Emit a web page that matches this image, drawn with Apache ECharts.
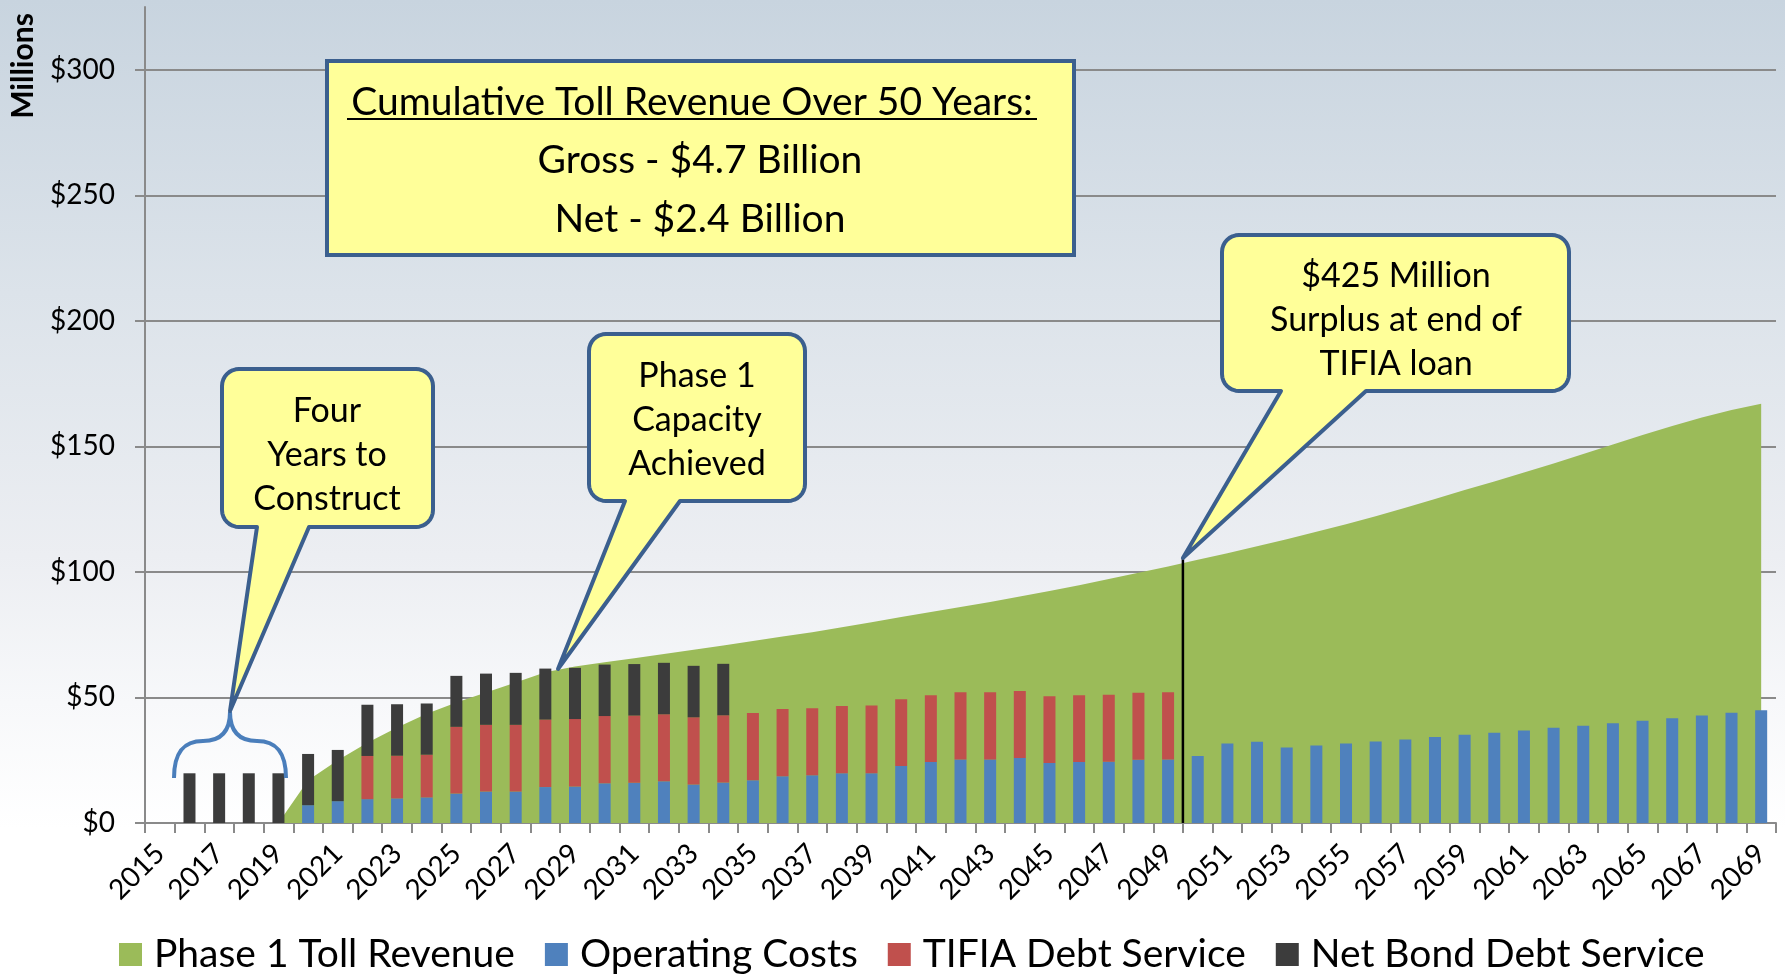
<!DOCTYPE html>
<html lang="en">
<head>
<meta charset="UTF-8">
<title>Phase 1 Toll Revenue</title>
<script src="https://cdn.jsdelivr.net/npm/echarts@6/dist/echarts.min.js"></script>
<style>
  html, body { margin: 0; padding: 0; }
  #main {
    width: 1785px; height: 975px;
    background: linear-gradient(to bottom, #c8d4df 0%, #dce3ea 30%, #eceef2 57%, #f7f8fa 72%, #ffffff 85%, #ffffff 100%);
  }
</style>
</head>
<body>
<div id="main"></div>
<script>
var years = ['2015','2016','2017','2018','2019','2020','2021','2022','2023','2024',
             '2025','2026','2027','2028','2029','2030','2031','2032','2033','2034',
             '2035','2036','2037','2038','2039','2040','2041','2042','2043','2044',
             '2045','2046','2047','2048','2049','2050','2051','2052','2053','2054',
             '2055','2056','2057','2058','2059','2060','2061','2062','2063','2064',
             '2065','2066','2067','2068','2069'];

// millions of dollars per year
var tollRevenue = ['-','-','-','-',0,
                   17,25,32,38,43.5, 48,52,56,60,62.3, 64,65.6,67.3,69,70.7,
                   72.5,74.3,76,78,80, 82,84,86,88,90.2, 92.4,94.7,97.2,99.7,102.2,
                   104.8,107.4,110.2,113,116, 119,122.2,125.6,129,132.6,
                   136,139.6,143.2,147,150.8, 154.5,158.1,161.5,164.5,167];

var operatingCosts = ['-',0,0,0,0,
                      7.1,8.7,9.5,9.8,10.2, 11.7,12.5,12.5,14.3,14.5, 15.8,16.0,16.6,15.3,16.1,
                      17.0,18.6,19.0,19.8,19.8, 22.7,24.3,25.3,25.3,25.9, 23.9,24.3,24.4,25.2,25.3,
                      26.7,31.7,32.4,30.1,30.9, 31.7,32.5,33.3,34.3,35.1,
                      35.9,36.8,37.9,38.7,39.7, 40.7,41.7,42.8,43.9,44.9];

var tifiaDebt = ['-',0,0,0,0, 0,0,17.2,17.0,17.0,
                 26.6,26.6,26.6,26.9,26.9, 26.8,26.8,26.7,26.8,26.8,
                 26.8,26.8,26.7,26.8,27.0, 26.6,26.6,26.8,26.8,26.7,
                 26.6,26.6,26.7,26.7,26.8,
                 '-','-','-','-','-','-','-','-','-','-',
                 '-','-','-','-','-','-','-','-','-','-'];

var netBondDebt = ['-',19.8,19.8,19.8,19.8,
                   20.4,20.4,20.4,20.5,20.4, 20.3,20.4,20.7,20.3,20.4, 20.5,20.5,20.5,20.5,20.5,
                   '-','-','-','-','-','-','-','-','-','-',
                   '-','-','-','-','-','-','-','-','-','-',
                   '-','-','-','-','-','-','-','-','-','-',
                   '-','-','-','-','-'];

var yTicks = [0, 50, 100, 150, 200, 250, 300];

var FONT = 'Lato, "Open Sans", sans-serif';
var gridColor = '#8a8a8a';

var myChart = echarts.init(document.getElementById('main'));

myChart.setOption({
    animation: false,
    backgroundColor: 'transparent',
    textStyle: { fontFamily: FONT },
    grid: { left: 145, right: 9, top: 7, bottom: 152 },
    legend: {
        left: 114,
        top: 930,
        itemWidth: 23,
        itemHeight: 23,
        itemGap: 30,
        icon: 'rect',
        textStyle: { fontSize: 39, color: '#000', fontFamily: FONT, padding: [0, 0, 0, 7] },
        data: ['Phase 1 Toll Revenue', 'Operating Costs', 'TIFIA Debt Service', 'Net Bond Debt Service']
    },
    xAxis: {
        type: 'category',
        data: years,
        boundaryGap: true,
        axisLine: { lineStyle: { color: gridColor, width: 2 } },
        axisTick: { show: true, interval: 0, length: 10, lineStyle: { color: gridColor, width: 2 } },
        axisLabel: { interval: 1, rotate: 45, fontSize: 28, color: '#000', margin: 26, fontFamily: FONT }
    },
    yAxis: {
        type: 'value',
        min: 0,
        max: 325,
        interval: 50,
        axisLine: { show: true, lineStyle: { color: gridColor, width: 2 } },
        axisTick: { show: true, length: 10, customValues: yTicks, lineStyle: { color: gridColor, width: 2 } },
        axisLabel: {
            customValues: yTicks,
            margin: 30,
            fontSize: 28,
            color: '#000',
            fontFamily: FONT,
            formatter: function (v) { return '$' + v; }
        },
        splitLine: { show: true, lineStyle: { color: gridColor, width: 2 } }
    },
    series: [
        {
            name: 'Phase 1 Toll Revenue',
            type: 'line',
            data: tollRevenue,
            color: '#9bbb59',
            symbol: 'none',
            lineStyle: { width: 0 },
            areaStyle: { color: '#9bbb59', opacity: 1 },
            z: 1
        },
        {
            name: 'Operating Costs',
            type: 'bar',
            stack: 'cost',
            data: operatingCosts,
            color: '#4f81bd',
            barWidth: 12,
            z: 3
        },
        {
            name: 'TIFIA Debt Service',
            type: 'bar',
            stack: 'cost',
            data: tifiaDebt,
            color: '#c0504d',
            barWidth: 12,
            z: 3
        },
        {
            name: 'Net Bond Debt Service',
            type: 'bar',
            stack: 'cost',
            data: netBondDebt,
            color: '#3c3c3c',
            barWidth: 12,
            z: 3
        }
    ]
});

// speech-bubble outline: rounded box with a pointed tail on the bottom edge
function bubble(x0, y0, x1, y1, r, bl, br, tx, ty) {
    var pts = [];
    function arc(cx, cy, a0, a1) {
        for (var i = 0; i <= 8; i++) {
            var a = a0 + (a1 - a0) * i / 8;
            pts.push([cx + r * Math.cos(a), cy + r * Math.sin(a)]);
        }
    }
    arc(x0 + r, y0 + r, Math.PI, 1.5 * Math.PI);
    arc(x1 - r, y0 + r, 1.5 * Math.PI, 2 * Math.PI);
    arc(x1 - r, y1 - r, 0, 0.5 * Math.PI);
    pts.push([br, y1], [tx, ty], [bl, y1]);
    arc(x0 + r, y1 - r, 0.5 * Math.PI, Math.PI);
    return pts;
}

var boxFill = '#ffff99';
var boxStroke = '#3b5f8e';

function textLines(cx, ys, lines, size) {
    return lines.map(function (t, i) {
        return {
            type: 'text', x: cx, y: ys[i], z: 20,
            style: { text: t, font: size + 'px ' + FONT, fill: '#000', align: 'center', verticalAlign: 'middle' }
        };
    });
}

// TIFIA loan ends between 2049 and 2050
var p49 = myChart.convertToPixel({ gridIndex: 0 }, ['2049', 0]);
var p50 = myChart.convertToPixel({ gridIndex: 0 }, ['2050', 0]);
var lineX = (p49[0] + p50[0]) / 2;
var baseY = p49[1];

var g = [];

// y-axis title
g.push({
    type: 'text', x: 23, y: 66, rotation: Math.PI / 2, z: 20,
    style: { text: 'Millions', font: 'bold 30px ' + FONT, fill: '#000', align: 'center', verticalAlign: 'middle' }
});

// summary box
g.push({
    type: 'rect', z: 15,
    shape: { x: 327, y: 61, width: 747, height: 194 },
    style: { fill: boxFill, stroke: boxStroke, lineWidth: 4 }
});
g = g.concat(textLines(692, [102], ['Cumulative Toll Revenue Over 50 Years:'], 39));
g = g.concat(textLines(700, [160, 219], ['Gross - $4.7 Billion', 'Net - $2.4 Billion'], 39));
g.push({
    type: 'line', z: 20,
    shape: { x1: 347, y1: 119, x2: 1037, y2: 119 },
    style: { stroke: '#000', lineWidth: 2 }
});

// brace over the construction years
var braceStyle = { stroke: '#4a7ebb', lineWidth: 4, fill: null };
g.push({ type: 'bezierCurve', z: 14, shape: { x1: 174, y1: 778, cpx1: 174, cpy1: 752, cpx2: 184, cpy2: 741, x2: 203, y2: 741 }, style: braceStyle });
g.push({ type: 'bezierCurve', z: 14, shape: { x1: 203, y1: 741, cpx1: 221, cpy1: 741, cpx2: 230, cpy2: 731, x2: 230, y2: 712 }, style: braceStyle });
g.push({ type: 'bezierCurve', z: 14, shape: { x1: 286, y1: 778, cpx1: 286, cpy1: 752, cpx2: 276, cpy2: 741, x2: 257, y2: 741 }, style: braceStyle });
g.push({ type: 'bezierCurve', z: 14, shape: { x1: 257, y1: 741, cpx1: 239, cpy1: 741, cpx2: 230, cpy2: 731, x2: 230, y2: 712 }, style: braceStyle });

// end-of-loan marker
g.push({
    type: 'line', z: 14,
    shape: { x1: lineX, y1: baseY, x2: lineX, y2: 558 },
    style: { stroke: '#000', lineWidth: 2.5 }
});

// callouts
g.push({
    type: 'polygon', z: 15,
    shape: { points: bubble(222, 369, 433, 527, 17, 257, 309, 230, 711) },
    style: { fill: boxFill, stroke: boxStroke, lineWidth: 4, lineJoin: 'round' }
});
g = g.concat(textLines(327, [411, 455, 499], ['Four', 'Years to', 'Construct'], 34));

g.push({
    type: 'polygon', z: 15,
    shape: { points: bubble(589, 334, 805, 501, 17, 625, 680, 558, 669) },
    style: { fill: boxFill, stroke: boxStroke, lineWidth: 4, lineJoin: 'round' }
});
g = g.concat(textLines(697, [376, 420, 464], ['Phase 1', 'Capacity', 'Achieved'], 34));

g.push({
    type: 'polygon', z: 15,
    shape: { points: bubble(1222, 235, 1569, 391, 17, 1281, 1366, lineX, 558) },
    style: { fill: boxFill, stroke: boxStroke, lineWidth: 4, lineJoin: 'round' }
});
g = g.concat(textLines(1396, [276, 320, 364], ['$425 Million', 'Surplus at end of', 'TIFIA loan'], 34));

myChart.setOption({ graphic: g });

window.addEventListener('resize', function () {
    myChart.resize();
});
</script>
</body>
</html>
